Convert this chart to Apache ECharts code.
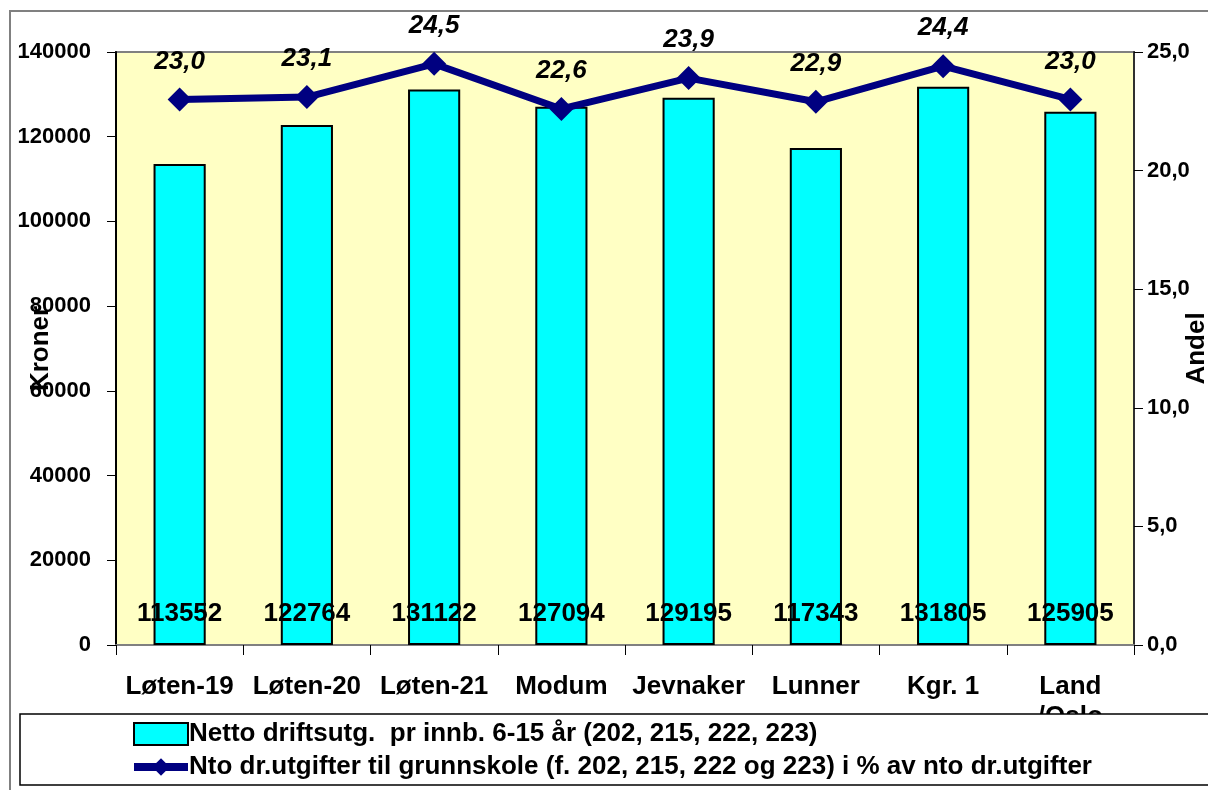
<!DOCTYPE html>
<html>
<head>
<meta charset="utf-8">
<script src="https://cdn.jsdelivr.net/npm/echarts@6/dist/echarts.min.js"></script>
<style>
  html, body { margin: 0; padding: 0; background: #fff; }
  #main { width: 1208px; height: 790px; }
</style>
</head>
<body>
<div id="main"></div>
<script>
// kategorier og verdier lest av figuren
const categories = ['Løten-19', 'Løten-20', 'Løten-21', 'Modum', 'Jevnaker', 'Lunner', 'Kgr. 1', 'Land\n/Oslo']
const nettoDrift = [113552, 122764, 131122, 127094, 129195, 117343, 131805, 125905]
const andelGrunnskole = [23.0, 23.1, 24.5, 22.6, 23.9, 22.9, 24.4, 23.0]
const barName = 'Netto driftsutg.  pr innb. 6-15 år (202, 215, 222, 223)'
const lineName = 'Nto dr.utgifter til grunnskole (f. 202, 215, 222 og 223) i % av nto dr.utgifter'

const font = "'Liberation Sans', Arial, sans-serif"

function komma(v) {
  return Number(v).toFixed(1).replace('.', ',')
}

let myChart = echarts.init(document.getElementById('main'), null, {renderer: 'canvas'})

let option = {
  animation: false,
  backgroundColor: '#ffffff',
  textStyle: {fontFamily: font, fontWeight: 'bold', color: '#000'},
  graphic: [
    {
      type: 'rect',
      z: 1,
      shape: {x: 10, y: 11, width: 1260, height: 820},
      style: {fill: 'none', stroke: '#808080', lineWidth: 2}
    },
    {
      // hvit legendeboks som dekker andre linje av "Land /Oslo"
      type: 'rect',
      z: 50,
      shape: {x: 20, y: 714, width: 1240, height: 71},
      style: {fill: '#ffffff', stroke: '#000000', lineWidth: 1.5}
    }
  ],
  legend: {
    z: 60,
    orient: 'vertical',
    left: 130,
    top: 719,
    height: 70,
    padding: 0,
    itemGap: 3,
    itemWidth: 54,
    itemHeight: 22,
    textStyle: {fontFamily: font, fontWeight: 'bold', fontSize: 26, lineHeight: 30, color: '#000', padding: [0, 0, 0, -4]},
    data: [
      {name: barName, icon: 'rect', itemStyle: {color: '#00FFFF', borderColor: '#000', borderWidth: 2}},
      {name: lineName, lineStyle: {color: '#000080', width: 8}}
    ]
  },
  grid: {
    left: 116,
    right: 74,
    top: 52,
    bottom: 145,
    outerBoundsMode: 'none',
    containLabel: false,
    show: true,
    backgroundColor: '#FFFFC4',
    borderColor: '#808080',
    borderWidth: 2
  },
  xAxis: {
    type: 'category',
    data: categories,
    axisLine: {lineStyle: {color: '#808080', width: 2}},
    axisTick: {show: true, length: 10, lineStyle: {color: '#000', width: 1}},
    axisLabel: {
      fontFamily: font, fontWeight: 'bold', fontSize: 26, color: '#000',
      margin: 27, lineHeight: 30, interval: 0
    }
  },
  yAxis: [
    {
      type: 'value',
      min: 0,
      max: 140000,
      interval: 20000,
      name: 'Kroner',
      nameLocation: 'middle',
      nameRotate: 90,
      nameGap: 62,
      nameMoveOverlap: false,
      nameTextStyle: {fontFamily: font, fontWeight: 'bold', fontSize: 26, color: '#000'},
      axisLine: {show: true, lineStyle: {color: '#000', width: 2}},
      axisTick: {show: true, length: 9, lineStyle: {color: '#000'}},
      splitLine: {show: false},
      axisLabel: {
        fontFamily: font, fontWeight: 'bold', fontSize: 22, color: '#000', margin: 25,
        formatter: function (v) {
          return String(v)
        }
      }
    },
    {
      type: 'value',
      min: 0,
      max: 25,
      interval: 5,
      position: 'right',
      name: 'Andel',
      nameLocation: 'middle',
      nameRotate: 90,
      nameGap: 50,
      nameMoveOverlap: false,
      nameTextStyle: {fontFamily: font, fontWeight: 'bold', fontSize: 26, color: '#000'},
      axisLine: {show: true, lineStyle: {color: '#303030', width: 2}},
      axisTick: {show: true, length: 9, lineStyle: {color: '#000'}},
      splitLine: {show: false},
      axisLabel: {
        fontFamily: font, fontWeight: 'bold', fontSize: 22, color: '#000', margin: 13,
        formatter: function (v) {
          return komma(v)
        }
      }
    }
  ],
  series: [
    {
      name: barName,
      type: 'bar',
      yAxisIndex: 0,
      data: nettoDrift,
      barWidth: '41%',
      itemStyle: {color: '#00FFFF', borderColor: '#000', borderWidth: 2},
      label: {
        show: true,
        position: 'insideBottom',
        distance: 18,
        fontFamily: font,
        fontWeight: 'bold',
        fontSize: 26,
        color: '#000'
      }
    },
    {
      name: lineName,
      type: 'line',
      yAxisIndex: 1,
      data: andelGrunnskole,
      symbol: 'diamond',
      symbolSize: 24,
      lineStyle: {color: '#000080', width: 7},
      itemStyle: {color: '#000080'},
      z: 5,
      label: {
        show: true,
        position: 'top',
        distance: 13,
        fontFamily: font,
        fontWeight: 'bold',
        fontStyle: 'italic',
        fontSize: 26,
        color: '#000',
        formatter: function (p) {
          return komma(p.value)
        }
      }
    }
  ]
}

myChart.setOption(option)
</script>
</body>
</html>
